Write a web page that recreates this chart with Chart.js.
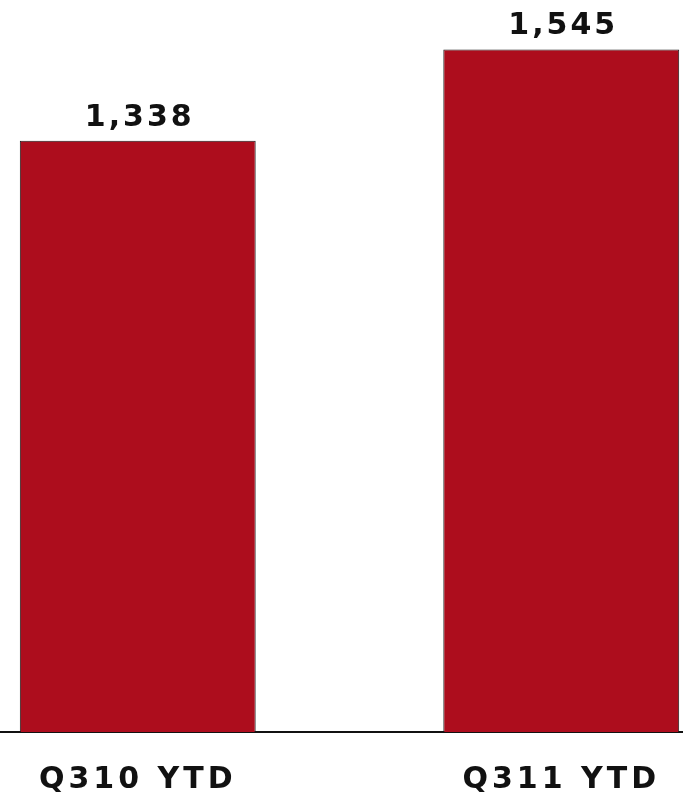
<!DOCTYPE html>
<html>
<head>
<meta charset="utf-8">
<script src="https://cdn.jsdelivr.net/npm/chart.js@4"></script>
<style>
  html, body { margin: 0; padding: 0; background: #fff; overflow: hidden; }
  #wrap { position: relative; width: 683px; height: 797px; overflow: hidden; }
  #chart { position: absolute; left: -74px; top: 0; }
</style>
</head>
<body>
<div id="wrap"><canvas id="chart" width="847" height="797"></canvas></div>
<script>
const categories = ["Q310 YTD", "Q311 YTD"];
const values = [1338, 1545];

const textFont = { family: "'DejaVu Sans', Arial, sans-serif", size: 30, weight: "bold" };

// canvas letter spacing so the wide labels come out like the original
const spacing = {
    id: "spacing",
    beforeDraw(chart) { chart.ctx.letterSpacing = "4px"; },
    afterDraw(chart) { chart.ctx.letterSpacing = "0px"; }
};

const valueLabels = {
    id: "valueLabels",
    afterDatasetsDraw(chart) {
        const ctx = chart.ctx;
        const meta = chart.getDatasetMeta(0);
        ctx.save();
        ctx.letterSpacing = "3px";
        ctx.font = "bold 30px 'DejaVu Sans', Arial, sans-serif";
        ctx.fillStyle = "#111";
        ctx.textAlign = "center";
        ctx.textBaseline = "alphabetic";
        meta.data.forEach(function(bar, i) {
            ctx.fillText(values[i].toLocaleString("en-US"), bar.x + 2, bar.y - 15);
        });
        ctx.restore();
    }
};

new Chart(document.getElementById("chart").getContext("2d"), {
    type: "bar",
    data: {
        labels: categories,
        datasets: [{
            data: values,
            backgroundColor: "#AD0D1D",
            borderColor: "#1a1a1a",
            borderWidth: 1,
            borderSkipped: "bottom",
            barPercentage: 0.557,
            categoryPercentage: 1
        }]
    },
    options: {
        responsive: false,
        animation: false,
        layout: { padding: { top: 3, left: 0, right: 0, bottom: 0 } },
        plugins: { legend: { display: false }, tooltip: { enabled: false } },
        scales: {
            x: {
                afterFit: function(scale) { scale.height = 65; },
                grid: { display: false, drawTicks: false },
                border: { display: true, color: "#111", width: 2 },
                ticks: { color: "#111", font: textFont, padding: 30 }
            },
            y: {
                display: false,
                min: 0,
                max: 1650
            }
        }
    },
    plugins: [spacing, valueLabels]
});
</script>
</body>
</html>
